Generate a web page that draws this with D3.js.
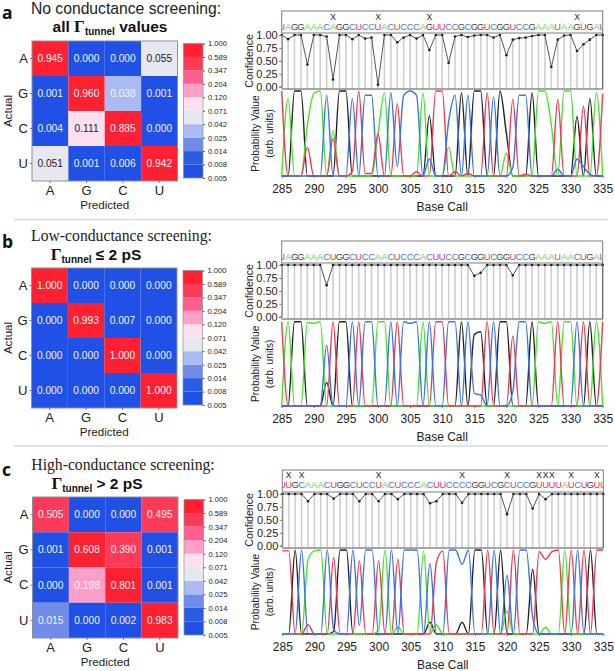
<!DOCTYPE html>
<html>
<head>
<meta charset="utf-8">
<style>
  body { margin: 0; background: #fff; }
  text { font-family: "Liberation Sans", Arial, sans-serif; fill: #222; }
</style>
<script src="https://d3js.org/d3.v7.min.js"></script>
</head>
<body>
<svg id="chart" width="615" height="671"></svg>
<script>
const bases = ["A", "G", "C", "U"];
const legendTicks = [0.005, 0.008, 0.014, 0.025, 0.042, 0.071, 0.120, 0.204, 0.347, 0.589, 1.000];
const bandColors = ["#2150e6", "#2b5ce2", "#6e8ce8", "#abbaf1", "#e7e7ef", "#fde0f0", "#fd9fc8", "#fd5f8e", "#fd3a58", "#fd2131"];

// confusion matrices, row = actual, col = predicted
const matrixA = [
  [0.945, 0.000, 0.000, 0.055],
  [0.001, 0.960, 0.038, 0.001],
  [0.004, 0.111, 0.885, 0.000],
  [0.051, 0.001, 0.006, 0.942],
];
const matrixB = [
  [1.000, 0.000, 0.000, 0.000],
  [0.000, 0.993, 0.007, 0.000],
  [0.000, 0.000, 1.000, 0.000],
  [0.000, 0.000, 0.000, 1.000],
];
const matrixC = [
  [0.505, 0.000, 0.000, 0.495],
  [0.001, 0.608, 0.390, 0.001],
  [0.000, 0.198, 0.801, 0.001],
  [0.015, 0.000, 0.002, 0.983],
];

// base calls 285..335
const seqA = "UAGGAAACAGGCUCCUACUCCCAGUUCCGCGGUCGGUCCGAAAUAAGUGAU";
const seqB = "UAGGAAACUGGCUCCAACUCCCACUUCCGCGGUCGGUCCGAAAUAACUGAU";
const seqC = "UUGCAAACUGGCUCCUACUCCCACUUCCCCGGUCGCUCCGUUUUAUCUGUU";
const marksA = [293, 300, 308, 331];
const marksB = [];
const marksC = [286, 288, 300, 313, 320, 325, 326, 327, 330, 334];

// confidence, only the positions below 1.00
const confA = [[286, .92], [289, .43], [292, .97], [293, .14], [296, .92], [298, .93], [299, .95], [300, .04],
  [303, .86], [304, .95], [306, .93], [308, .71], [311, .46], [312, .97], [314, .96], [315, .99], [318, .95],
  [320, .61], [321, .91], [322, .94], [323, .95], [324, .98], [327, .38], [328, .91], [329, .99], [331, .69],
  [332, .82], [333, .91]];
const confB = [[292, .61], [315, .79], [316, .85], [321, .80]];
const confC = [[289, .86], [293, .91], [297, .86], [300, .86], [303, .90], [308, .82], [309, .86], [313, .83],
  [320, .61], [324, .72], [326, .90]];

// probability traces, only the positions above zero
const probA = {
  A: [[286, .91], [289, .6], [290, .97], [291, 1], [293, .53], [300, .5], [301, .98], [307, .98], [311, .34], [320, .27],
    [325, 1], [326, 1], [327, .6], [329, 1], [330, 1], [334, .98]],
  G: [[287, 1], [288, 1], [294, 1], [295, 1], [308, .71], [313, .98], [315, 1], [316, 1], [319, 1], [320, .5], [324, .98],
    [331, .7], [333, .91]],
  C: [[292, .95], [296, .91], [298, .95], [299, .95], [302, .98], [303, .11], [304, .95], [305, 1], [306, .95], [308, .2],
    [311, .64], [312, .95], [314, .95], [318, .93], [321, .1], [322, .95], [323, .95], [328, .08], [331, .2], [332, .11], [333, .02]],
  U: [[285, 1], [289, .34], [293, .44], [296, .05], [297, 1], [298, .03], [299, .03], [300, .5], [303, .85], [306, .05],
    [309, 1], [310, 1], [312, .05], [314, .03], [317, .98], [321, .9], [323, .02], [328, .9], [332, .82], [335, .97]],
};
const probB = {
  A: [[286, 1], [289, .99], [290, .98], [291, 1], [300, 1], [301, 1], [307, 1], [325, 1], [326, .98], [327, 1], [329, 1], [330, 1], [334, 1]],
  G: [[287, 1], [288, 1], [292, .28], [294, 1], [295, 1], [313, 1], [315, .85], [316, .88], [319, 1], [320, 1], [324, 1], [333, 1]],
  C: [[292, .72], [296, 1], [298, 1], [299, 1], [302, 1], [304, 1], [305, .98], [306, 1], [308, 1], [311, 1], [312, 1], [314, 1],
    [315, .15], [316, .13], [318, 1], [321, .17], [322, 1], [323, 1], [331, 1]],
  U: [[285, 1], [293, 1], [297, 1], [303, 1], [309, 1], [310, 1], [317, 1], [321, .83], [328, 1], [332, 1], [335, 1]],
};
const probC = {
  A: [[289, .88], [290, .99], [291, 1], [300, .05], [301, 1], [303, .08], [307, .99], [309, .11], [320, .27], [326, .08], [329, 1]],
  G: [[287, 1], [293, .03], [294, 1], [295, 1], [308, .14], [313, .14], [315, 1], [316, 1], [319, 1], [324, .77], [333, 1]],
  C: [[288, 1], [292, 1], [293, .05], [296, 1], [297, .1], [298, 1], [299, 1], [302, 1], [304, 1], [305, 1], [306, 1], [308, .84],
    [311, 1], [312, 1], [313, .83], [314, 1], [318, 1], [320, .7], [322, 1], [323, 1], [324, .2], [331, 1]],
  U: [[285, .99], [286, .99], [289, .11], [293, .91], [297, .87], [300, .87], [303, .89], [309, .85], [310, .99], [317, 1], [321, 1],
    [325, .98], [326, .89], [327, .98], [328, 1], [330, 1], [332, 1], [334, 1], [335, 1]],
};

const baseColors = { A: "#45e62a", G: "#222222", C: "#3b74e8", U: "#f23850" };
const letterColors = { A: "#55dd33", G: "#444444", C: "#4477ee", U: "#ee3355" };
const positions = d3.range(285, 336);

const svg = d3.select("#chart");

const cellColor = d3.scaleThreshold().domain(legendTicks.slice(1, -1)).range(bandColors);

function drawMatrix(matrix, box) {
  const g = svg.append("g");
  const x = d3.scaleBand().domain(bases).range([box.x0, box.x1]);
  const y = d3.scaleBand().domain(bases).range([box.y0, box.y1]);
  matrix.forEach((row, r) => row.forEach((v, c) => {
    g.append("rect")
      .attr("x", x(bases[c])).attr("y", y(bases[r]))
      .attr("width", x.bandwidth()).attr("height", y.bandwidth())
      .attr("fill", cellColor(v));
    g.append("text")
      .attr("x", x(bases[c]) + x.bandwidth() / 2)
      .attr("y", y(bases[r]) + y.bandwidth() / 2)
      .attr("dy", "0.35em").attr("text-anchor", "middle")
      .style("font-size", "10.2px")
      .style("fill", v >= 0.042 && v < 0.12 ? "#222" : "#f4f4fa")
      .text(v.toFixed(3));
  }));
  g.append("rect")
    .attr("x", box.x0).attr("y", box.y0)
    .attr("width", box.x1 - box.x0).attr("height", box.y1 - box.y0)
    .attr("fill", "none").attr("stroke", "#8a9296");

  const ax = g.append("g").attr("transform", `translate(0,${box.y1})`)
    .call(d3.axisBottom(x).tickSize(2).tickPadding(3));
  const ay = g.append("g").attr("transform", `translate(${box.x0},0)`)
    .call(d3.axisLeft(y).tickSize(2).tickPadding(2));
  [ax, ay].forEach((a) => {
    a.select(".domain").remove();
    a.selectAll("line").attr("stroke", "#777");
    a.selectAll("text").style("font-size", "13px").style("font-family", '"Liberation Sans"');
  });

  g.append("text")
    .attr("x", (box.x0 + box.x1) / 2).attr("y", box.y1 + 28)
    .attr("text-anchor", "middle").style("font-size", "11.6px").text("Predicted");
  g.append("text")
    .attr("transform", `translate(12,${(box.y0 + box.y1) / 2}) rotate(-90)`)
    .attr("text-anchor", "middle").style("font-size", "11.6px").text("Actual");

  // colour bar
  const barX = box.x1 + 6, barW = 19.5;
  const bar = d3.scalePoint().domain(legendTicks).range([box.y1 - 3, box.y0 + 2.5]);
  bandColors.forEach((col, i) => {
    g.append("rect")
      .attr("x", barX).attr("y", bar(legendTicks[i + 1]))
      .attr("width", barW).attr("height", bar(legendTicks[i]) - bar(legendTicks[i + 1]))
      .attr("fill", col);
  });
  g.append("rect")
    .attr("x", barX).attr("y", bar(1)).attr("width", barW).attr("height", bar(0.005) - bar(1))
    .attr("fill", "none").attr("stroke", "#8a9296").attr("stroke-width", 0.7);
  const barAxis = g.append("g").attr("transform", `translate(${barX + barW},0)`)
    .call(d3.axisRight(bar).tickSize(2).tickPadding(3).tickFormat(d3.format(".3f")));
  barAxis.select(".domain").remove();
  barAxis.selectAll("line").attr("stroke", "#555");
  barAxis.selectAll("text").style("font-size", "7.6px").style("font-family", '"Liberation Sans"');
}

function drawTrace(seq, marks, conf, prob, box) {
  const g = svg.append("g");
  const x = d3.scaleLinear().domain([285, 335]).range([box.x0, box.x1]);
  const yConf = d3.scaleLinear().domain([0, 1]).range([box.conf0, box.conf1]);
  const yProb = d3.scaleLinear().domain([0, 1]).range([box.prob0, box.prob1]);
  const clipId = "clip" + box.top;

  svg.append("clipPath").attr("id", clipId).append("rect")
    .attr("x", box.x0).attr("y", box.top).attr("width", box.x1 - box.x0).attr("height", box.prob0 - box.top + 2);

  // sequence strip
  const strip = g.append("g").attr("clip-path", `url(#${clipId})`);
  strip.selectAll("text.letter").data(positions).join("text")
    .attr("class", "letter")
    .attr("x", (p) => x(p)).attr("y", box.letterY)
    .attr("text-anchor", "middle")
    .style("font-size", "9.4px")
    .style("fill", (p) => letterColors[seq[p - 285]])
    .text((p) => seq[p - 285]);
  strip.selectAll("text.mark").data(marks).join("text")
    .attr("class", "mark")
    .attr("x", (p) => x(p)).attr("y", box.letterY - 9.5)
    .attr("text-anchor", "middle")
    .style("font-size", "8.6px")
    .text("X");

  // confidence
  const confMap = new Map(conf);
  const confPoints = positions.map((p) => [p, confMap.has(p) ? confMap.get(p) : 1]);
  g.selectAll("line.drop").data(confPoints).join("line")
    .attr("class", "drop")
    .attr("x1", (d) => x(d[0])).attr("x2", (d) => x(d[0]))
    .attr("y1", (d) => yConf(d[1])).attr("y2", box.confBottom)
    .attr("stroke", "#c9cdcd").attr("stroke-width", 1.5);
  g.append("path")
    .attr("d", d3.line().x((d) => x(d[0])).y((d) => yConf(d[1]))(confPoints))
    .attr("fill", "none").attr("stroke", "#555").attr("stroke-width", 1);
  g.selectAll("circle").data(confPoints).join("circle")
    .attr("cx", (d) => x(d[0])).attr("cy", (d) => yConf(d[1]))
    .attr("r", 1.3).attr("fill", "#222");

  // frames
  g.append("rect")
    .attr("x", box.x0).attr("y", box.top).attr("width", box.x1 - box.x0).attr("height", box.confTop - box.top)
    .attr("fill", "none").attr("stroke", "#7d7d7d");
  g.append("line")
    .attr("x1", box.x0).attr("x2", box.x1).attr("y1", box.confBottom).attr("y2", box.confBottom)
    .attr("stroke", "#8a8a8a").attr("stroke-width", 1.4);
  g.append("line")
    .attr("x1", box.x1).attr("x2", box.x1).attr("y1", box.confTop).attr("y2", box.confBottom)
    .attr("stroke", "#555");

  const confAxis = g.append("g").attr("transform", `translate(${box.x0},0)`)
    .call(d3.axisLeft(yConf).tickValues([0, .25, .5, .75, 1]).tickFormat(d3.format(".2f")).tickSize(2.5).tickPadding(1.5));
  confAxis.select(".domain").attr("stroke", "#777");
  confAxis.selectAll("line").attr("stroke", "#777");
  confAxis.selectAll("text").style("font-size", "11px").style("font-family", '"Liberation Sans"');

  // probability traces
  const line = d3.line().curve(d3.curveMonotoneX).x((d) => x(d[0])).y((d) => yProb(d[1]));
  ["G", "A", "U", "C"].forEach((b) => {
    const m = new Map(prob[b]);
    const pts = positions.map((p) => [p, m.has(p) ? m.get(p) : 0]);
    g.append("path").attr("d", line(pts))
      .attr("fill", "none").attr("stroke", baseColors[b]).attr("stroke-width", 1.4);
  });

  const probAxis = g.append("g").attr("transform", `translate(0,${box.prob0})`)
    .call(d3.axisBottom(x).tickValues(d3.range(285, 336, 5)).tickFormat(d3.format("d")).tickSize(2).tickPadding(6.5));
  probAxis.select(".domain").remove();
  probAxis.selectAll("line").attr("stroke", "#777");
  probAxis.selectAll("text").style("font-size", "12px").style("font-family", '"Liberation Sans"');

  g.append("text").attr("x", (box.x0 + box.x1) / 2).attr("y", box.prob0 + 35)
    .attr("text-anchor", "middle").style("font-size", "12px").text("Base Call");
  const confMid = (box.conf0 + box.conf1) / 2;
  g.append("text").attr("transform", `translate(253,${confMid}) rotate(-90)`)
    .attr("text-anchor", "middle").style("font-size", "10.6px").text("Confidence");
  const probMid = (box.prob0 + box.prob1) / 2;
  g.append("text").attr("transform", `translate(259,${probMid}) rotate(-90)`)
    .attr("text-anchor", "middle").style("font-size", "10.3px").text("Probability Value");
  g.append("text").attr("transform", `translate(273,${probMid}) rotate(-90)`)
    .attr("text-anchor", "middle").style("font-size", "10.2px").text("(arb. units)");
}

function drawTitle(letter, letterY, line1, serif, center1, y1, center2, y2, tail) {
  svg.append("text").attr("x", 2).attr("y", letterY)
    .style("font-size", "17.5px").style("font-weight", "bold").style("font-family", '"Open Sans"').style("fill", "#111")
    .text(letter);
  svg.append("text").attr("x", center1).attr("y", y1).attr("text-anchor", "middle")
    .style("font-size", "15.7px")
    .style("font-family", serif ? '"Liberation Serif"' : '"Liberation Sans"')
    .text(line1);
  const t = svg.append("text").attr("x", center2).attr("y", y2).attr("text-anchor", "middle")
    .style("font-size", "15.5px").style("font-weight", "bold").style("fill", "#111");
  if (tail.before) t.append("tspan").text(tail.before);
  t.append("tspan").style("font-family", '"Liberation Serif"').style("font-size", "17px").text("Γ");
  t.append("tspan").attr("dy", 3).style("font-size", "10px").text("tunnel");
  t.append("tspan").attr("dy", -3).text(" " + tail.after);
}

drawTitle("a", 19, "No conductance screening:", false, 126, 13.5, 110, 32, { before: "all ", after: "values" });
drawTitle("b", 248, "Low-conductance screening:", true, 121.5, 241, 96, 260, { after: "≤ 2 pS" });
drawTitle("c", 476, "High-conductance screening:", true, 123, 470, 97, 489, { after: "> 2 pS" });

drawMatrix(matrixA, { x0: 32, x1: 177.5, y0: 41, y1: 181 });
drawMatrix(matrixB, { x0: 31.5, x1: 177, y0: 268, y1: 408 });
drawMatrix(matrixC, { x0: 32.5, x1: 178, y0: 497, y1: 638 });

drawTrace(seqA, marksA, confA, probA, { x0: 281.7, x1: 602.7, top: 11, letterY: 29.5, confTop: 33, conf1: 35, conf0: 86.7, confBottom: 89, prob1: 91, prob0: 176 });
drawTrace(seqB, marksB, confB, probB, { x0: 281.7, x1: 602.7, top: 241, letterY: 259.5, confTop: 263, conf1: 265, conf0: 316.7, confBottom: 319, prob1: 321.7, prob0: 406 });
drawTrace(seqC, marksC, confC, probC, { x0: 282.3, x1: 603.3, top: 470, letterY: 487.5, confTop: 492, conf1: 494, conf0: 545.7, confBottom: 548, prob1: 550, prob0: 634 });

// separators between the panels
[219.5, 446].forEach((y) => {
  svg.append("line").attr("x1", 14).attr("x2", 608).attr("y1", y).attr("y2", y)
    .attr("stroke", "#d5dcdd").attr("stroke-width", 1.5);
});
</script>
</body>
</html>
